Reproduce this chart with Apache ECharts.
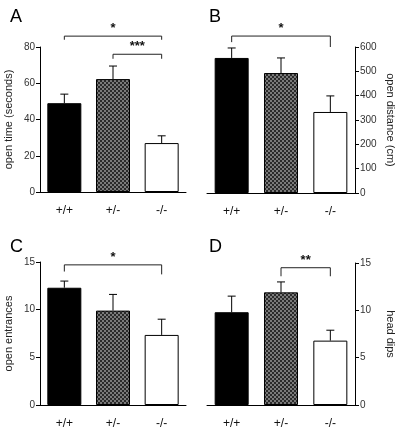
<!DOCTYPE html>
<html><head><meta charset="utf-8">
<script src="https://cdn.jsdelivr.net/npm/echarts@6/dist/echarts.min.js"></script>
<style>html,body{margin:0;padding:0;background:#fff}#c{width:400px;height:430px}</style>
</head><body><div id="c"></div>
<script>
var categories = ['+/+', '+/-', '-/-'];
// Panel A: open time (seconds)
var openTimeMean = [49, 62.3, 27];
var openTimeErr = [5, 7.2, 4];
var openTimeTicks = [0, 80, 20];
// Panel B: open distance (cm)
var openDistMean = [555, 493, 333];
var openDistErr = [41, 62, 66];
var openDistTicks = [0, 600, 100];
// Panel C: open entrances
var entrMean = [12.3, 9.9, 7.35];
var entrErr = [0.7, 1.7, 1.65];
var entrTicks = [0, 15, 5];
// Panel D: head dips
var dipsMean = [9.8, 11.9, 6.8];
var dipsErr = [1.7, 1.1, 1.1];
var dipsTicks = [0, 15, 5];
// Significance brackets: [fromCat, toCat, top, leftFoot, rightFoot, label]
var sigA = [[0, 2, 86, 84, 84, '*'], [1, 2, 76, 73.5, 73.5, '***']];
var sigB = [[0, 2, 645, 620, 600, '*']];
var sigC = [[0, 2, 14.7, 14.0, 13.7, '*']];
var sigD = [[1, 2, 14.5, 13.6, 13.6, '**']];
var panelLetters = ['A', 'B', 'C', 'D'];

var pc = document.createElement('canvas');
pc.width = 4; pc.height = 4;
var g = pc.getContext('2d');
g.fillStyle = '#7a7a7a'; g.fillRect(0, 0, 4, 4);
g.fillStyle = '#2a2a2a';
g.fillRect(0, 0, 2, 2); g.fillRect(2, 2, 2, 2);
var barColors = ['#000', {image: pc, repeat: 'repeat'}, '#fff'];

var FONT = '"Liberation Sans", Arial, sans-serif';
var chart = echarts.init(document.getElementById('c'), null, {renderer: 'canvas'});

var grids = [
  {left: 40, top: 47, width: 146, height: 145},
  {left: 207, top: 47, width: 148, height: 146},
  {left: 40, top: 262, width: 146, height: 145},
  {left: 207, top: 263, width: 148, height: 145}
];
var panels = [
  {mean: openTimeMean, err: openTimeErr, ticks: openTimeTicks, sig: sigA, name: 'open time (seconds)', pos: 'left'},
  {mean: openDistMean, err: openDistErr, ticks: openDistTicks, sig: sigB, name: 'open distance (cm)', pos: 'right'},
  {mean: entrMean, err: entrErr, ticks: entrTicks, sig: sigC, name: 'open entrances', pos: 'left'},
  {mean: dipsMean, err: dipsErr, ticks: dipsTicks, sig: sigD, name: 'head dips', pos: 'right'}
];

var xAxes = [], yAxes = [], series = [], titles = [];
panels.forEach(function (p, i) {
  xAxes.push({
    type: 'category', gridIndex: i, data: categories,
    axisLine: {lineStyle: {color: '#000', width: 1}},
    axisTick: {show: false},
    axisLabel: {color: '#111', fontSize: 12, fontFamily: FONT, margin: 13}
  });
  yAxes.push({
    type: 'value', gridIndex: i, position: p.pos,
    min: p.ticks[0], max: p.ticks[1], interval: p.ticks[2],
    splitLine: {show: false},
    axisLine: {show: true, lineStyle: {color: '#000', width: 1}},
    axisTick: {show: true, length: 4, lineStyle: {color: '#000'}},
    axisLabel: {color: '#333', fontSize: 10, fontFamily: FONT, margin: 5},
    name: p.name, nameLocation: 'middle', nameRotate: p.pos === 'left' ? 90 : -90,
    nameGap: p.pos === 'left' ? 26 : 30,
    nameTextStyle: {color: '#222', fontSize: 11, fontFamily: FONT}
  });
  series.push({
    type: 'bar', xAxisIndex: i, yAxisIndex: i, barWidth: 34,
    data: p.mean.map(function (v, k) {
      return {value: v, itemStyle: {color: barColors[k], borderColor: '#000', borderWidth: 1}};
    })
  });
  series.push({
    type: 'custom', xAxisIndex: i, yAxisIndex: i, clip: false, z: 5,
    data: p.mean.map(function (v, k) { return [k, v, v + p.err[k]]; }),
    renderItem: function (params, api) {
      var a = api.coord([api.value(0), api.value(1)]);
      var b = api.coord([api.value(0), api.value(2)]);
      var st = {stroke: '#000', lineWidth: 1};
      return {type: 'group', children: [
        {type: 'line', shape: {x1: a[0], y1: a[1], x2: b[0], y2: b[1]}, style: st},
        {type: 'line', shape: {x1: b[0] - 4, y1: b[1], x2: b[0] + 4, y2: b[1]}, style: st}
      ]};
    }
  });
  series.push({
    type: 'custom', xAxisIndex: i, yAxisIndex: i, clip: false, z: 6,
    data: p.sig,
    renderItem: function (params, api) {
      var s = p.sig[params.dataIndex];
      var l = api.coord([s[0], s[2]]);
      var r = api.coord([s[1], s[2]]);
      var lf = api.coord([s[0], s[3]]);
      var rf = api.coord([s[1], s[4]]);
      var st = {stroke: '#222', lineWidth: 1};
      return {type: 'group', children: [
        {type: 'line', shape: {x1: l[0], y1: l[1], x2: r[0], y2: r[1]}, style: st},
        {type: 'line', shape: {x1: l[0], y1: l[1], x2: lf[0], y2: lf[1]}, style: st},
        {type: 'line', shape: {x1: r[0], y1: r[1], x2: rf[0], y2: rf[1]}, style: st},
        {type: 'text', x: (l[0] + r[0]) / 2, y: l[1] - 1,
         style: {text: s[5], fill: '#111', font: 'bold 13px ' + FONT, align: 'center', verticalAlign: 'bottom'}}
      ]};
    }
  });
  titles.push({
    text: panelLetters[i], left: (i % 2 === 0) ? 5 : 204, top: (i < 2) ? 3 : 233,
    textStyle: {color: '#000', fontSize: 18, fontWeight: 'normal', fontFamily: FONT}
  });
});

chart.setOption({
  animation: false,
  backgroundColor: '#fff',
  title: titles,
  grid: grids,
  xAxis: xAxes,
  yAxis: yAxes,
  series: series
});
</script></body></html>
